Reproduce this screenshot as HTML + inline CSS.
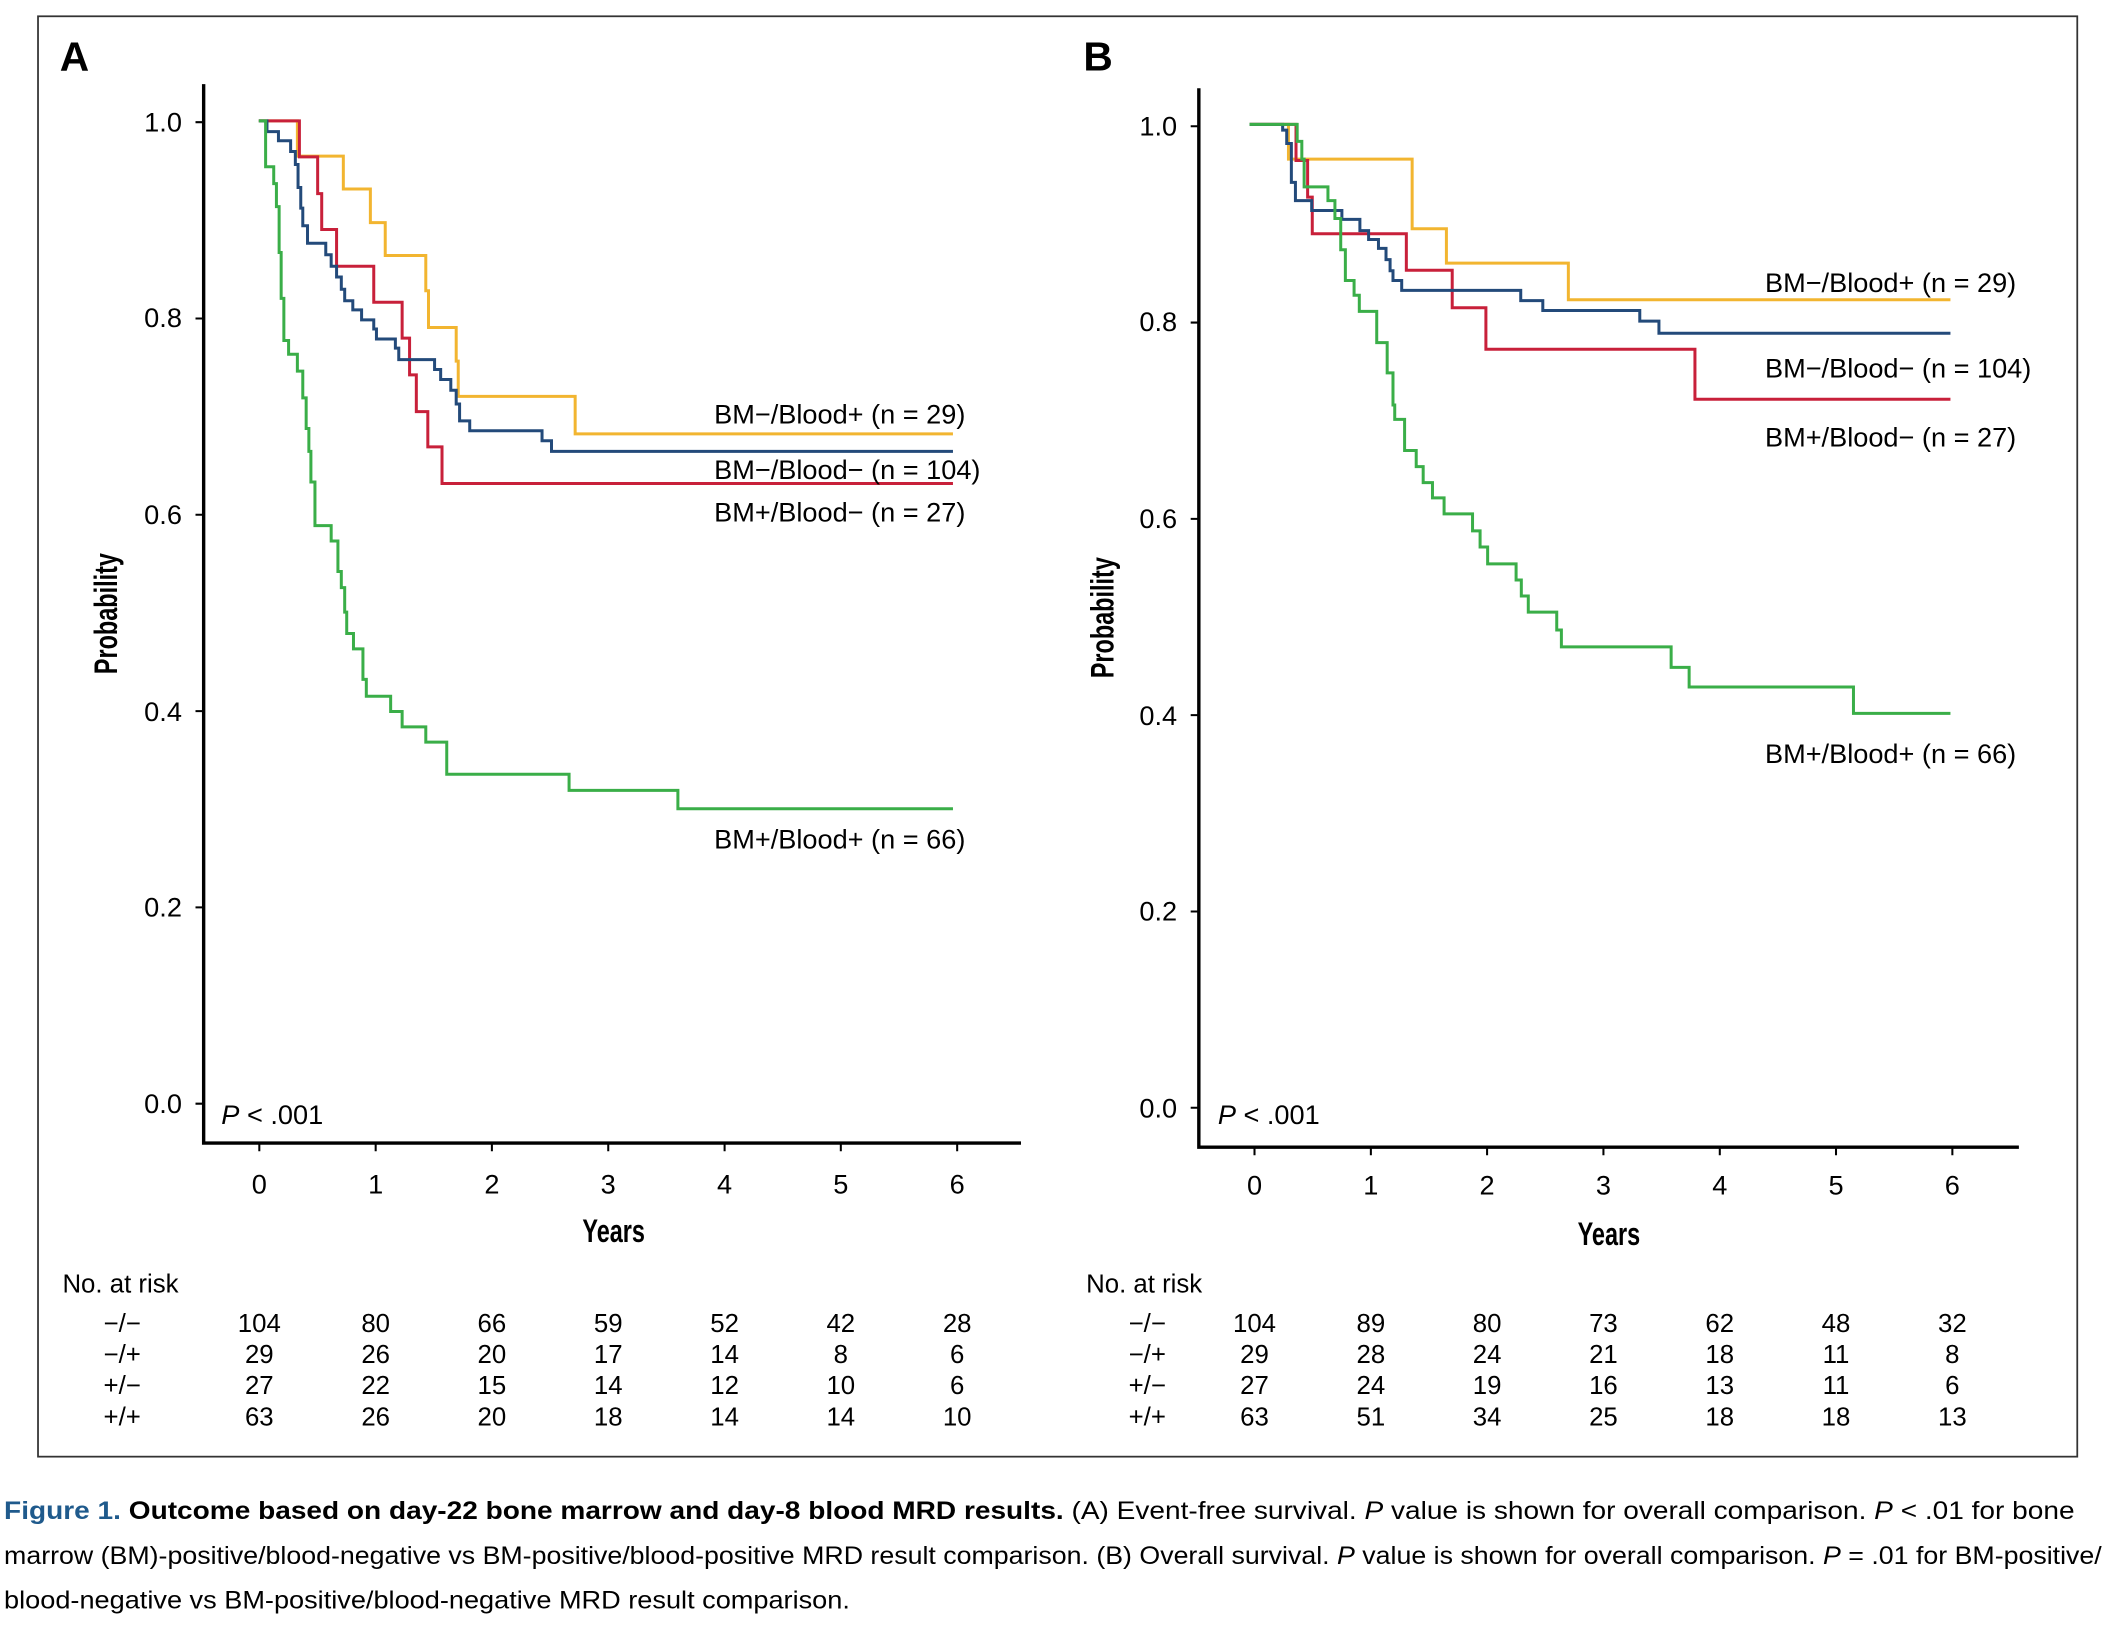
<!DOCTYPE html>
<html><head><meta charset="utf-8"><style>html,body{margin:0;padding:0;background:#fff}svg{display:block}</style></head><body>
<svg width="2118" height="1644" viewBox="0 0 1560 1211" preserveAspectRatio="none" font-family="Liberation Sans, sans-serif">
<rect x="28" y="12" width="1502" height="1061" fill="none" stroke="#333" stroke-width="1.3"/>
<g font-weight="bold" font-size="30"><text x="44" y="52">A</text><text x="798" y="52">B</text></g>
<g stroke="#000" stroke-width="2.5" fill="none">
<path d="M150,62 V842 H752"/>
</g>
<g stroke="#000" stroke-width="1.5">
<path d="M144,90 H150 M144,234.6 H150 M144,379.2 H150 M144,523.8 H150 M144,668.4 H150 M144,813 H150"/>
<path d="M191,842 V848 M276.7,842 V848 M362.3,842 V848 M448,842 V848 M533.7,842 V848 M619.3,842 V848 M705,842 V848"/>
</g>
<g font-size="20" text-anchor="end">
<text x="134" y="97">1.0</text><text x="134" y="241">0.8</text><text x="134" y="386">0.6</text><text x="134" y="531">0.4</text><text x="134" y="675">0.2</text><text x="134" y="820">0.0</text>
</g>
<g font-size="20" text-anchor="middle">
<text x="191" y="879">0</text><text x="276.7" y="879">1</text><text x="362.3" y="879">2</text><text x="448" y="879">3</text><text x="533.7" y="879">4</text><text x="619.3" y="879">5</text><text x="705" y="879">6</text>
</g>
<text transform="translate(452,915) scale(0.72,1)" text-anchor="middle" font-size="24" font-weight="bold">Years</text>
<text transform="translate(86,452) rotate(-90) scale(0.72,1)" text-anchor="middle" font-size="24" font-weight="bold">Probability</text>
<text x="163" y="828" font-size="20"><tspan font-style="italic">P</tspan> &lt; .001</text>
<g transform="scale(0.4978,0.5636)" fill="none">
<path vector-effect="non-scaling-stroke" stroke-width="3" stroke="#f2b530" d="M383,158 H440 V204 H508 V247 H548 V291 H570 V334 H630 V380 H634 V428 H675 V472 H678 V518 H851 V567 H1410"/>
<path vector-effect="non-scaling-stroke" stroke-width="3" stroke="#c8203a" d="M383,158 H443 V205 H470 V253 H476 V300 H498 V348 H553 V395 H595 V442 H606 V490 H616 V538 H633 V584 H654 V632 H1410"/>
<path vector-effect="non-scaling-stroke" stroke-width="3" stroke="#234a7a" d="M383,158 H395 V172 H412 V184 H430 V198 H437 V215 H441 V245 H445 V272 H448 V295 H455 V318 H482 V333 H490 V348 H498 V362 H505 V378 H510 V393 H522 V405 H535 V418 H553 V430 H557 V443 H585 V455 H590 V470 H643 V483 H652 V496 H667 V510 H675 V528 H680 V550 H695 V563 H802 V576 H816 V590 H1410"/>
<path vector-effect="non-scaling-stroke" stroke-width="3" stroke="#3aae48" d="M383,158 H393 V218 H405 V240 H409 V270 H413 V330 H416 V390 H420 V445 H427 V463 H440 V485 H448 V520 H453 V560 H457 V590 H460 V630 H466 V687 H490 V707 H500 V747 H505 V768 H510 V800 H513 V828 H523 V848 H537 V888 H542 V910 H578 V930 H595 V950 H630 V970 H661 V1012 H842 V1033 H1003 V1057 H1410"/>
</g>
<g font-size="20">
<text x="526" y="312">BM−/Blood+ (n = 29)</text>
<text x="526" y="353">BM−/Blood− (n = 104)</text>
<text x="526" y="384">BM+/Blood− (n = 27)</text>
<text x="526" y="625">BM+/Blood+ (n = 66)</text>
</g>
<g stroke="#000" stroke-width="2.5" fill="none"><path d="M883,65 V845 H1487"/></g>
<g stroke="#000" stroke-width="1.5">
<path d="M877,93 H883 M877,237.6 H883 M877,382.2 H883 M877,526.8 H883 M877,671.4 H883 M877,816 H883"/>
<path d="M924,845 V851 M1009.7,845 V851 M1095.3,845 V851 M1181,845 V851 M1266.7,845 V851 M1352.3,845 V851 M1438,845 V851"/>
</g>
<g font-size="20" text-anchor="end">
<text x="867" y="100">1.0</text><text x="867" y="244">0.8</text><text x="867" y="389">0.6</text><text x="867" y="534">0.4</text><text x="867" y="678">0.2</text><text x="867" y="823">0.0</text>
</g>
<g font-size="20" text-anchor="middle">
<text x="924" y="880">0</text><text x="1009.7" y="880">1</text><text x="1095.3" y="880">2</text><text x="1181" y="880">3</text><text x="1266.7" y="880">4</text><text x="1352.3" y="880">5</text><text x="1438" y="880">6</text>
</g>
<text transform="translate(1185,917) scale(0.72,1)" text-anchor="middle" font-size="24" font-weight="bold">Years</text>
<text transform="translate(820,455) rotate(-90) scale(0.72,1)" text-anchor="middle" font-size="24" font-weight="bold">Probability</text>
<text x="897" y="828" font-size="20"><tspan font-style="italic">P</tspan> &lt; .001</text>
<g transform="translate(876.3,66.3) scale(0.4277,0.3287)" fill="none">
<path vector-effect="non-scaling-stroke" stroke-width="3" stroke="#f2b530" d="M103,77 H170 V155 H383 V311 H442 V388 H652 V470 H1310"/>
<path vector-effect="non-scaling-stroke" stroke-width="3" stroke="#c8203a" d="M103,77 H183 V158 H203 V240 H211 V322 H373 V404 H452 V488 H510 V581 H870 V693 H1310"/>
<path vector-effect="non-scaling-stroke" stroke-width="3" stroke="#234a7a" d="M103,77 H160 V90 H167 V120 H175 V207 H182 V248 H210 V270 H262 V290 H293 V315 H308 V335 H325 V355 H338 V380 H345 V405 H350 V427 H365 V449 H570 V472 H608 V494 H775 V518 H808 V545 H1310"/>
<path vector-effect="non-scaling-stroke" stroke-width="3" stroke="#3aae48" d="M103,77 H185 V115 H193 V155 H197 V217 H238 V248 H250 V288 H260 V358 H268 V427 H283 V460 H292 V496 H322 V566 H340 V634 H350 V706 H353 V738 H370 V808 H390 V844 H402 V880 H418 V914 H438 V950 H487 V988 H500 V1024 H513 V1062 H562 V1098 H571 V1134 H583 V1170 H632 V1210 H640 V1248 H829 V1294 H860 V1338 H1143 V1397 H1310"/>
</g>
<g font-size="20">
<text x="1300" y="215">BM−/Blood+ (n = 29)</text>
<text x="1300" y="278">BM−/Blood− (n = 104)</text>
<text x="1300" y="329">BM+/Blood− (n = 27)</text>
<text x="1300" y="562">BM+/Blood+ (n = 66)</text>
</g>
<g font-size="19">
<text x="46" y="952">No. at risk</text>
<text x="800" y="952">No. at risk</text>
</g>
<g font-size="19" text-anchor="middle">
<g transform="translate(0,981)">
<text x="90">−/−</text><text x="191">104</text><text x="276.7">80</text><text x="362.3">66</text><text x="448">59</text><text x="533.7">52</text><text x="619.3">42</text><text x="705">28</text>
<text x="845">−/−</text><text x="924">104</text><text x="1009.7">89</text><text x="1095.3">80</text><text x="1181">73</text><text x="1266.7">62</text><text x="1352.3">48</text><text x="1438">32</text>
</g>
<g transform="translate(0,1004)">
<text x="90">−/+</text><text x="191">29</text><text x="276.7">26</text><text x="362.3">20</text><text x="448">17</text><text x="533.7">14</text><text x="619.3">8</text><text x="705">6</text>
<text x="845">−/+</text><text x="924">29</text><text x="1009.7">28</text><text x="1095.3">24</text><text x="1181">21</text><text x="1266.7">18</text><text x="1352.3">11</text><text x="1438">8</text>
</g>
<g transform="translate(0,1027)">
<text x="90">+/−</text><text x="191">27</text><text x="276.7">22</text><text x="362.3">15</text><text x="448">14</text><text x="533.7">12</text><text x="619.3">10</text><text x="705">6</text>
<text x="845">+/−</text><text x="924">27</text><text x="1009.7">24</text><text x="1095.3">19</text><text x="1181">16</text><text x="1266.7">13</text><text x="1352.3">11</text><text x="1438">6</text>
</g>
<g transform="translate(0,1050)">
<text x="90">+/+</text><text x="191">63</text><text x="276.7">26</text><text x="362.3">20</text><text x="448">18</text><text x="533.7">14</text><text x="619.3">14</text><text x="705">10</text>
<text x="845">+/+</text><text x="924">63</text><text x="1009.7">51</text><text x="1095.3">34</text><text x="1181">25</text><text x="1266.7">18</text><text x="1352.3">18</text><text x="1438">13</text>
</g>
</g>
<g font-size="18.5">
<text x="3" y="1119" textLength="1525" lengthAdjust="spacingAndGlyphs"><tspan fill="#1f5a8c" font-weight="bold">Figure 1.</tspan> <tspan font-weight="bold">Outcome based on day-22 bone marrow and day-8 blood MRD results.</tspan> (A) Event-free survival. <tspan font-style="italic">P</tspan> value is shown for overall comparison. <tspan font-style="italic">P</tspan> &lt; .01 for bone</text>
<text x="3" y="1152" textLength="1545" lengthAdjust="spacingAndGlyphs">marrow (BM)-positive/blood-negative vs BM-positive/blood-positive MRD result comparison. (B) Overall survival. <tspan font-style="italic">P</tspan> value is shown for overall comparison. <tspan font-style="italic">P</tspan> = .01 for BM-positive/</text>
<text x="3" y="1185" textLength="623" lengthAdjust="spacingAndGlyphs">blood-negative vs BM-positive/blood-negative MRD result comparison.</text>
</g>
</svg>
</body></html>
